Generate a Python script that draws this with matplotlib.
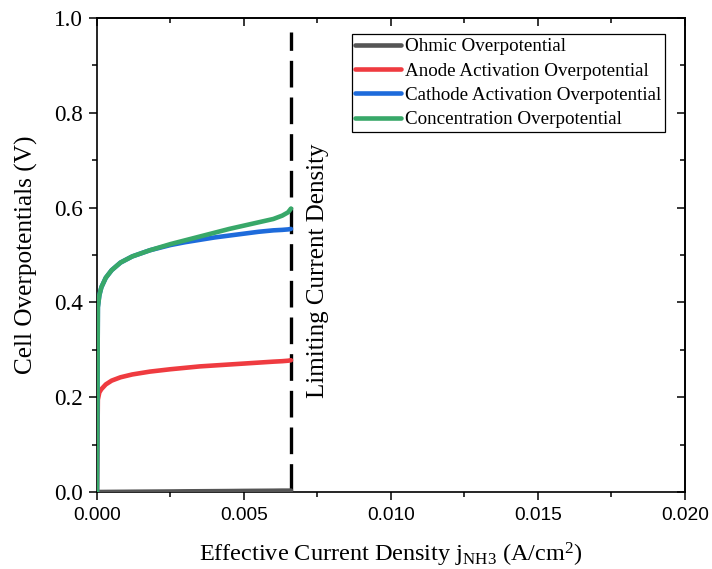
import matplotlib
matplotlib.use("Agg")
import matplotlib.pyplot as plt
from matplotlib.ticker import MultipleLocator, FormatStrFormatter

plt.rcParams['font.family'] = ['Liberation Serif', 'DejaVu Serif']
plt.rcParams['mathtext.fontset'] = 'custom'
plt.rcParams['mathtext.rm'] = 'Liberation Serif'
plt.rcParams['mathtext.it'] = 'Liberation Serif:italic'

# ---- data ----
j = [0, 0.00003, 0.00008, 0.00015, 0.0003, 0.0005, 0.0008, 0.0012, 0.0018,
     0.0025, 0.003, 0.0035, 0.004, 0.0045, 0.005, 0.0055, 0.006, 0.0063,
     0.0065, 0.0066]
ohmic = [0, 0.00001, 0.00004, 0.00007, 0.00014, 0.00023, 0.00036, 0.00055,
         0.0008, 0.0011, 0.0014, 0.0016, 0.0018, 0.002, 0.0023, 0.0025,
         0.0027, 0.0029, 0.0029, 0.003]
anode = [0, 0.195, 0.210, 0.217, 0.227, 0.235, 0.242, 0.248, 0.254, 0.259,
         0.262, 0.265, 0.267, 0.269, 0.271, 0.273, 0.275, 0.276, 0.277, 0.278]
cathode = [0, 0.390, 0.415, 0.432, 0.452, 0.468, 0.484, 0.497, 0.510, 0.521,
           0.527, 0.532, 0.537, 0.541, 0.545, 0.549, 0.552, 0.553, 0.554, 0.555]
concentration = [0, 0.390, 0.415, 0.432, 0.452, 0.468, 0.484, 0.497, 0.510,
                 0.523, 0.531, 0.539, 0.547, 0.555, 0.562, 0.569, 0.576,
                 0.583, 0.590, 0.598]
j_lim = 0.0066

labels = ["Ohmic Overpotential", "Anode Activation Overpotential",
          "Cathode Activation Overpotential", "Concentration Overpotential"]
colors = ["#555555", "#EF3B40", "#1E6BDB", "#38A869"]

fig = plt.figure(figsize=(7.12, 5.69), dpi=100)
ax = fig.add_axes([0.1362, 0.1353, 0.8258, 0.8331])

for y, lab, c in zip([ohmic, anode, cathode, concentration], labels, colors):
    ax.plot(j, y, color=c, lw=3.3, label=lab, solid_capstyle='round', zorder=3)

ax.plot([j_lim, j_lim], [0.97, 0.0], color='black', lw=2.4,
        linestyle=(2.5, (8, 3)), zorder=2)

ax.text(0.00752, 0.466, "Limiting Current Density", rotation=90,
        ha='center', va='center', fontsize=18)

ax.set_xlim(0, 0.02)
ax.set_ylim(0, 1.0)
ax.xaxis.set_major_locator(MultipleLocator(0.005))
ax.xaxis.set_minor_locator(MultipleLocator(0.0025))
ax.yaxis.set_major_locator(MultipleLocator(0.2))
ax.yaxis.set_minor_locator(MultipleLocator(0.1))
ax.xaxis.set_major_formatter(FormatStrFormatter('%.3f'))
ax.yaxis.set_major_formatter(FormatStrFormatter('%.1f'))

ax.tick_params(which='major', direction='out', length=6, width=1.1)
ax.tick_params(which='minor', direction='out', length=3.6, width=1.1)
ax.tick_params(axis='y', pad=4)
ax.tick_params(axis='x', pad=5)
for lbl in ax.get_xticklabels():
    lbl.set_fontfamily('Liberation Sans')
    lbl.set_fontsize(13.8)
for lbl in ax.get_yticklabels():
    lbl.set_fontsize(16.7)

for s in ax.spines.values():
    s.set_linewidth(1.2)

top = ax.secondary_xaxis('top')
top.xaxis.set_major_locator(MultipleLocator(0.005))
top.xaxis.set_minor_locator(MultipleLocator(0.0025))
top.tick_params(which='major', direction='in', length=6, width=1.1, labeltop=False)
top.tick_params(which='minor', direction='in', length=3.6, width=1.1)
top.spines['top'].set_linewidth(1.2)
right = ax.secondary_yaxis('right')
right.yaxis.set_major_locator(MultipleLocator(0.2))
right.yaxis.set_minor_locator(MultipleLocator(0.1))
right.tick_params(which='major', direction='in', length=6, width=1.1, labelright=False)
right.tick_params(which='minor', direction='in', length=3.6, width=1.1)
right.spines['right'].set_linewidth(1.2)

ax.set_ylabel("Cell Overpotentials (V)", fontsize=18.2, labelpad=12)
ax.set_xlabel(r"Effective Current Density j$_{\mathrm{NH3}}$ (A/cm$^{2}$)",
              fontsize=17.5, labelpad=12)

leg = ax.legend(loc='upper right', bbox_to_anchor=(0.966, 0.966),
                borderaxespad=0, fontsize=13.7, frameon=True, fancybox=False,
                edgecolor='black', framealpha=1, borderpad=0.2,
                handlelength=2.4, handletextpad=0.2, labelspacing=0.37)
leg.get_frame().set_linewidth(0.9)

fig.savefig("out.png", dpi=100)
